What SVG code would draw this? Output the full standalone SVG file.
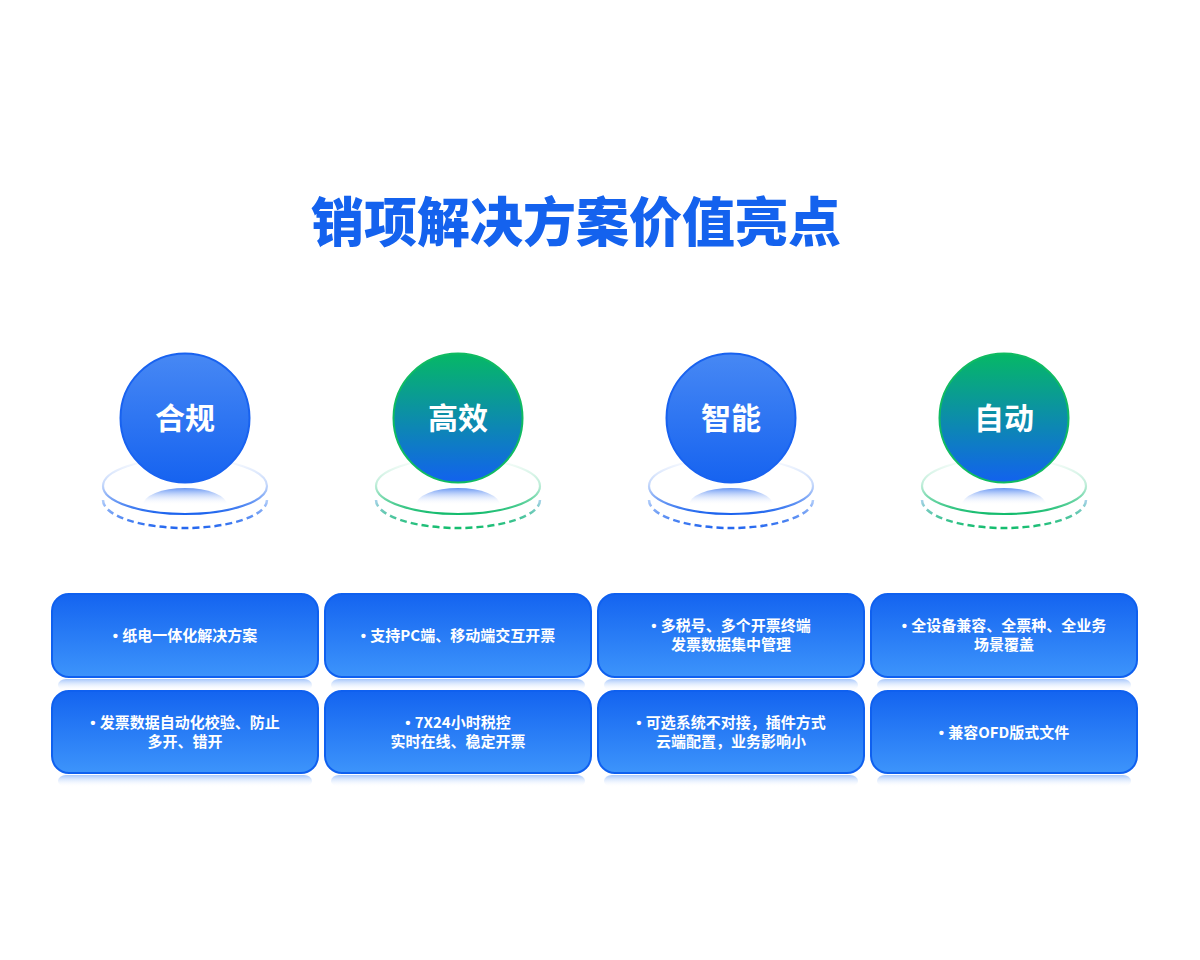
<svg xmlns="http://www.w3.org/2000/svg" width="1200" height="960" viewBox="0 0 1200 960">
<style>
.title{font-family:"Noto Sans CJK SC","Liberation Sans",sans-serif;font-size:53px;font-weight:900;fill:#1462ee;text-anchor:middle}
.ctext{font-family:"Noto Sans CJK SC","Liberation Sans",sans-serif;font-size:30px;font-weight:700;fill:#fff;text-anchor:middle}
.card{fill:url(#cardG);stroke:#0f60ef;stroke-width:2}
.refl{fill:url(#reflG)}
.t{font-family:"Noto Sans CJK SC","Liberation Sans",sans-serif;font-size:15px;font-weight:700;fill:#fff;text-anchor:middle}
.b{font-family:"Liberation Sans",sans-serif}
.dome{fill:url(#domeG)}
</style>
<defs>
<linearGradient id="blueC" x1="0" y1="0" x2="0" y2="1"><stop offset="0" stop-color="#4788f4"/><stop offset="1" stop-color="#1663f0"/></linearGradient>
<linearGradient id="greenC" x1="0" y1="0" x2="0" y2="1"><stop offset="0" stop-color="#06b866"/><stop offset="1" stop-color="#1262ee"/></linearGradient>
<linearGradient id="cardG" x1="0" y1="0" x2="0" y2="1"><stop offset="0" stop-color="#1464f0"/><stop offset="1" stop-color="#3d94fb"/></linearGradient>
<linearGradient id="reflG" x1="0" y1="0" x2="0" y2="1"><stop offset="0" stop-color="#8fb8fa" stop-opacity="0.8"/><stop offset="1" stop-color="#ffffff" stop-opacity="0"/></linearGradient>
<linearGradient id="domeG" x1="0" y1="0" x2="0" y2="1"><stop offset="0" stop-color="#4d84f2" stop-opacity="0.85"/><stop offset="1" stop-color="#ffffff" stop-opacity="0"/></linearGradient>
<linearGradient id="ringB" x1="0" y1="0" x2="0" y2="1"><stop offset="0" stop-color="#2f72f0" stop-opacity="0"/><stop offset="0.5" stop-color="#2f72f0" stop-opacity="0.3"/><stop offset="1" stop-color="#1a62ee" stop-opacity="1"/></linearGradient>
<linearGradient id="ringG" x1="0" y1="0" x2="0" y2="1"><stop offset="0" stop-color="#1dc078" stop-opacity="0"/><stop offset="0.5" stop-color="#1dc078" stop-opacity="0.3"/><stop offset="1" stop-color="#12bb6c" stop-opacity="1"/></linearGradient>
<linearGradient id="dashB" x1="0" y1="0" x2="0" y2="1"><stop offset="0" stop-color="#b4cffa"/><stop offset="1" stop-color="#2467ef"/></linearGradient>
<linearGradient id="dashG" x1="0" y1="0" x2="0" y2="1"><stop offset="0" stop-color="#a8d2ea"/><stop offset="1" stop-color="#14bd6e"/></linearGradient>
</defs>
<rect width="1200" height="960" fill="#ffffff"/>
<g id="title"><text class="title" x="576" y="242">销项解决方案价值亮点</text></g>

<g id="node-hegui">
<path d="M103,500 A82,28 0 0 0 267,500" fill="none" stroke="url(#dashB)" stroke-width="2.5" stroke-dasharray="7,4"/>
<ellipse cx="185" cy="486" rx="82" ry="28" fill="none" stroke="url(#ringB)" stroke-width="2.2"/>
<path class="dome" d="M143,505 A42,17 0 0 1 227,505 Z"/>
<circle cx="185" cy="418" r="64.5" fill="url(#blueC)" stroke="#1862f0" stroke-width="2"/>
<text class="ctext" x="185" y="429">合规</text>
</g>
<g id="node-gaoxiao">
<path d="M376,500 A82,28 0 0 0 540,500" fill="none" stroke="url(#dashG)" stroke-width="2.5" stroke-dasharray="7,4"/>
<ellipse cx="458" cy="486" rx="82" ry="28" fill="none" stroke="url(#ringG)" stroke-width="2.2"/>
<path class="dome" d="M416,505 A42,17 0 0 1 500,505 Z"/>
<circle cx="458" cy="418" r="64.5" fill="url(#greenC)" stroke="#10bb62" stroke-width="2"/>
<text class="ctext" x="458" y="429">高效</text>
</g>
<g id="node-zhineng">
<path d="M649,500 A82,28 0 0 0 813,500" fill="none" stroke="url(#dashB)" stroke-width="2.5" stroke-dasharray="7,4"/>
<ellipse cx="731" cy="486" rx="82" ry="28" fill="none" stroke="url(#ringB)" stroke-width="2.2"/>
<path class="dome" d="M689,505 A42,17 0 0 1 773,505 Z"/>
<circle cx="731" cy="418" r="64.5" fill="url(#blueC)" stroke="#1862f0" stroke-width="2"/>
<text class="ctext" x="731" y="429">智能</text>
</g>
<g id="node-zidong">
<path d="M922,500 A82,28 0 0 0 1086,500" fill="none" stroke="url(#dashG)" stroke-width="2.5" stroke-dasharray="7,4"/>
<ellipse cx="1004" cy="486" rx="82" ry="28" fill="none" stroke="url(#ringG)" stroke-width="2.2"/>
<path class="dome" d="M962,505 A42,17 0 0 1 1046,505 Z"/>
<circle cx="1004" cy="418" r="64.5" fill="url(#greenC)" stroke="#10bb62" stroke-width="2"/>
<text class="ctext" x="1004" y="429">自动</text>
</g>

<g id="card-1-1"><rect class="refl" x="58" y="679" width="254" height="12" rx="8"/><rect class="card" x="52" y="594" width="266" height="83" rx="17"/><text class="t" x="185" y="641"><tspan class="b">• </tspan>纸电一体化解决方案</text></g>
<g id="card-2-1"><rect class="refl" x="331" y="679" width="254" height="12" rx="8"/><rect class="card" x="325" y="594" width="266" height="83" rx="17"/><text class="t" x="458" y="641"><tspan class="b">• </tspan>支持PC端、移动端交互开票</text></g>
<g id="card-3-1"><rect class="refl" x="604" y="679" width="254" height="12" rx="8"/><rect class="card" x="598" y="594" width="266" height="83" rx="17"/><text class="t" x="731" y="631"><tspan class="b">• </tspan>多税号、多个开票终端</text><text class="t" x="731" y="650">发票数据集中管理</text></g>
<g id="card-4-1"><rect class="refl" x="877" y="679" width="254" height="12" rx="8"/><rect class="card" x="871" y="594" width="266" height="83" rx="17"/><text class="t" x="1004" y="631"><tspan class="b">• </tspan>全设备兼容、全票种、全业务</text><text class="t" x="1004" y="650">场景覆盖</text></g>

<g id="card-1-2"><rect class="refl" x="58" y="775" width="254" height="12" rx="8"/><rect class="card" x="52" y="691" width="266" height="82" rx="17"/><text class="t" x="185" y="728"><tspan class="b">• </tspan>发票数据自动化校验、防止</text><text class="t" x="185" y="747">多开、错开</text></g>
<g id="card-2-2"><rect class="refl" x="331" y="775" width="254" height="12" rx="8"/><rect class="card" x="325" y="691" width="266" height="82" rx="17"/><text class="t" x="458" y="728"><tspan class="b">• </tspan>7X24小时税控</text><text class="t" x="458" y="747">实时在线、稳定开票</text></g>
<g id="card-3-2"><rect class="refl" x="604" y="775" width="254" height="12" rx="8"/><rect class="card" x="598" y="691" width="266" height="82" rx="17"/><text class="t" x="731" y="728"><tspan class="b">• </tspan>可选系统不对接，插件方式</text><text class="t" x="731" y="747">云端配置，业务影响小</text></g>
<g id="card-4-2"><rect class="refl" x="877" y="775" width="254" height="12" rx="8"/><rect class="card" x="871" y="691" width="266" height="82" rx="17"/><text class="t" x="1004" y="738"><tspan class="b">• </tspan>兼容OFD版式文件</text></g>
<g id="connectors"></g>
</svg>
